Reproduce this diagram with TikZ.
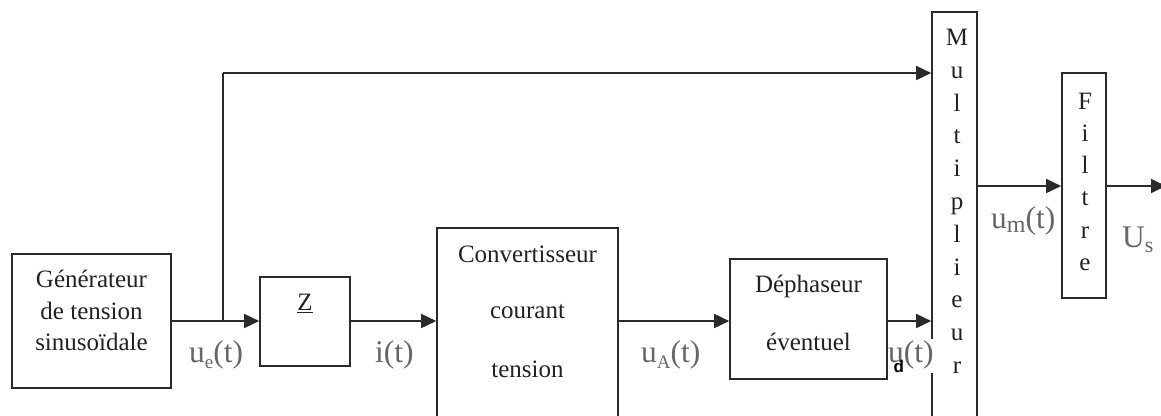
\documentclass[tikz,border=0pt]{standalone}
\usepackage{fontspec}
\setmainfont{Liberation Serif}
\setsansfont{Liberation Sans}
\usetikzlibrary{arrows.meta}

\definecolor{wire}{HTML}{2A2A2A}
\definecolor{boxtext}{HTML}{222222}
\definecolor{sig}{HTML}{666666}

% lowered index of a signal name
\newcommand{\sigsub}[2][-6pt]{\raisebox{#1}{\fontsize{19}{20}\selectfont #2}}

\tikzset{
  block/.style={draw=wire, line width=1.6pt, inner sep=0pt, fill=none},
  btext/.style={anchor=base, inner sep=0pt, text=boxtext,
                font=\fontsize{25}{29}\selectfont},
  siglabel/.style={anchor=base west, inner sep=0pt, text=sig,
                   font=\fontsize{31.5}{34}\selectfont},
  link/.style={draw=wire, line width=1.6pt,
               -{Triangle[length=15pt,width=14pt]}},
  plain/.style={draw=wire, line width=1.6pt}
}

\begin{document}
\begin{tikzpicture}[x=1pt, y=-1pt]
\useasboundingbox (0,0) rectangle (1161,415);
\clip (0,0) rectangle (1161,415);

% blocks
\node[block, minimum width=159pt, minimum height=134pt] (gen)  at (91.5,321) {};
\node[block, minimum width=90pt,  minimum height=89pt]  (imp)  at (305,321.5) {};
\node[block, minimum width=181pt, minimum height=212pt] (conv) at (527.5,334) {};
\node[block, minimum width=157pt, minimum height=120pt] (deph) at (808.5,319) {};
\node[block, minimum width=45pt,  minimum height=428pt] (mul)  at (954.5,226) {};
\node[block, minimum width=44pt,  minimum height=225pt] (fil)  at (1084,185.5) {};

% block texts
\node[btext] (gen1) at (91.5,287) {Générateur};
\node[btext] (gen2) at (91.5,319) {de tension};
\node[btext] (gen3) at (91.5,350.5) {sinusoïdale};
\node[btext] (impz) at (305,310.5) {\underline{Z}};
\node[btext] (conv1) at (527.5,262) {Convertisseur};
\node[btext] (conv2) at (527.5,318) {courant};
\node[btext] (conv3) at (527.5,377) {tension};
\node[btext] (deph1) at (808.5,292) {Déphaseur};
\node[btext] (deph2) at (808.5,350) {éventuel};
\foreach \c [count=\i] in {M,u,l,t,i,p,l,i,e,u,r}
  \node[btext] (mul\i) at (957,{45.5+32.8*(\i-1)}) {\c};
\foreach \c [count=\i] in {F,i,l,t,r,e}
  \node[btext] (fil\i) at (1085,{109+32.3*(\i-1)}) {\c};

% connectors
\coordinate (split) at (223,321);
\coordinate (out) at (1166,186);
\draw[link] (gen.east |- split) -- (imp.west |- split);
\draw[plain] (split) -- (split |- 0,73);
\draw[link] (split |- 0,73) -- (mul.west |- 0,73);
\draw[link] (imp.east |- split) -- (conv.west |- split);
\draw[link] (conv.east |- split) -- (deph.west |- split);
\draw[link] (deph.east |- split) -- (mul.west |- split);
\draw[link] (mul.east |- out) -- (fil.west |- out);
\draw[link] (fil.east |- out) -- (out);

% signal labels
\node[siglabel] (ue) at (189,362) {u\sigsub{e}(t)};
\node[siglabel] (it) at (375,362) {i(t)};
\node[siglabel] (ua) at (641,362) {u\sigsub{A}(t)};
\node[siglabel, fill=white, inner ysep=1pt] (ud) at (888,362)
  {u\makebox[0pt][r]{\raisebox{-10pt}{\textcolor{black}{\sffamily\bfseries\fontsize{17}{18}\selectfont d}}}(t)};
\node[siglabel] (um) at (991,228) {u\sigsub[-4pt]{\fontsize{24}{26}\selectfont m}(t)};
\node[siglabel] (us) at (1122,247) {U\sigsub[-5pt]{\fontsize{22}{24}\selectfont s}};
\end{tikzpicture}
\end{document}
